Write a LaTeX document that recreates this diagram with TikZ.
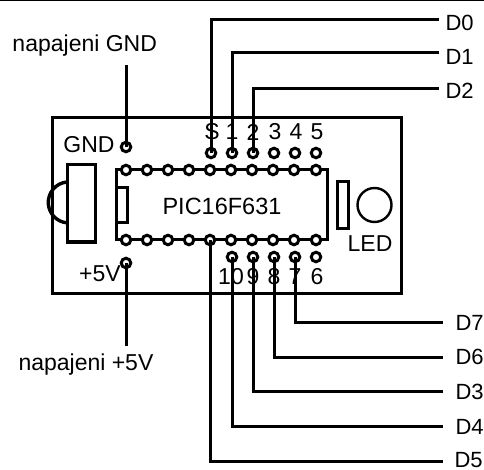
\documentclass[tikz,border=0pt]{standalone}
\usepackage{fontspec}
\setmainfont{Liberation Sans}
\begin{document}
\begin{tikzpicture}[x=1pt, y=-1pt, line width=3pt,
  pad/.style={circle, draw, fill=white, line width=3pt, minimum size=9.5pt, inner sep=0pt},
  lbl/.style={inner sep=0pt, font=\fontsize{23}{25}\selectfont},
  sig/.style={lbl, anchor=west, font=\fontsize{22}{25}\selectfont},
  wire/.style={line width=3pt}]
\useasboundingbox (0,0) rectangle (484,470);
\draw (0,0) -- (484,0);

% board and chip
\node (board) [draw, minimum width=349pt, minimum height=175pt, inner sep=0pt] at (226.5,205.5) {};
\node (chip) [draw, minimum width=211pt, minimum height=70pt, inner sep=0pt] at (221.5,205) {};
\node (notch) [draw, minimum width=11pt, minimum height=35pt, inner sep=0pt] at (121.5,205.5) {};
\draw[line width=3.4pt] (67,182) arc[start angle=95, end angle=265, radius=20.5pt];
\node (sensor) [draw, fill=white, minimum width=28pt, minimum height=77pt, inner sep=0pt] at (81,203.5) {};
\node (ledbar) [draw, minimum width=11pt, minimum height=47pt, inner sep=0pt] at (342.5,205.5) {};
\node (led) [circle, draw, line width=2.4pt, minimum size=34pt, inner sep=0pt] at (374.5,205) {};

% pads on the chip
\foreach \i/\x in {1/126,2/147,3/168,4/189,5/210,6/231,7/252,8/273,9/294,10/316} {
  \node (t\i) [pad] at (\x,170) {};
  \node (b\i) [pad] at (\x,240) {};
}
% header pads
\foreach \i/\x in {0/211,1/232,2/253,3/274,4/295,5/316}
  \node (u\i) [pad] at (\x,153) {};
\foreach \i/\x in {0/232,1/253,2/274,3/295,4/316}
  \node (l\i) [pad] at (\x,257) {};
\node (gndpad) [pad] at (126,147) {};
\node (vccpad) [pad] at (126,263) {};

% texts
\node (chipname) [lbl, font=\fontsize{23.5}{25}\selectfont] at (222,206) {PIC16F631};
\node (gnd) [lbl] at (89,145) {GND};
\node (vcc) [lbl] at (100,274) {+5V};
\node (ledname) [lbl] at (370,244) {LED};
\node (napgnd) [lbl, anchor=west] at (11,46) {napajeni GND};
\node (napvcc) [lbl, anchor=west] at (17,365) {napajeni +5V};
\foreach \n/\t/\x in {a/S/212,c/1/232,d/2/253,e/3/275,f/4/296,g/5/317}
  \node (n\n) [lbl] at (\x,132) {\t};
\foreach \n/\t/\x in {h/9/253,i/8/274,j/7/295,k/6/317}
  \node (n\n) [lbl] at (\x,277) {\t};
\node (nten) [lbl] at (231,277) {10};

% signal names
\node (d0) [sig] at (444,23) {D0};
\node (d1) [sig] at (444,57) {D1};
\node (d2) [sig] at (444,91) {D2};
\node (d7) [sig] at (454,323) {D7};
\node (d6) [sig] at (454,357) {D6};
\node (d3) [sig] at (454,392) {D3};
\node (d4) [sig] at (454,427) {D4};
\node (d5) [sig] at (453,460) {D5};

% wire ends
\foreach \n/\y in {d0/20,d1/53,d2/89}
  \coordinate (\n end) at (439,\y);
\foreach \n/\y in {d7/322,d6/357,d3/391,d4/426,d5/461}
  \coordinate (\n end) at (443,\y);
\coordinate (gndend) at (126,65);
\coordinate (vccend) at (126,346);

\draw[wire] (u0.center) |- (d0end);
\draw[wire] (u1.center) |- (d1end);
\draw[wire] (u2.center) |- (d2end);
\draw[wire] (l3.center) |- (d7end);
\draw[wire] (l2.center) |- (d6end);
\draw[wire] (l1.center) |- (d3end);
\draw[wire] (l0.center) |- (d4end);
\draw[wire] (b5.center) |- (d5end);
\draw[wire] (gndpad.center) -- (gndend);
\draw[wire] (vccpad.center) -- (vccend);
\end{tikzpicture}
\end{document}
